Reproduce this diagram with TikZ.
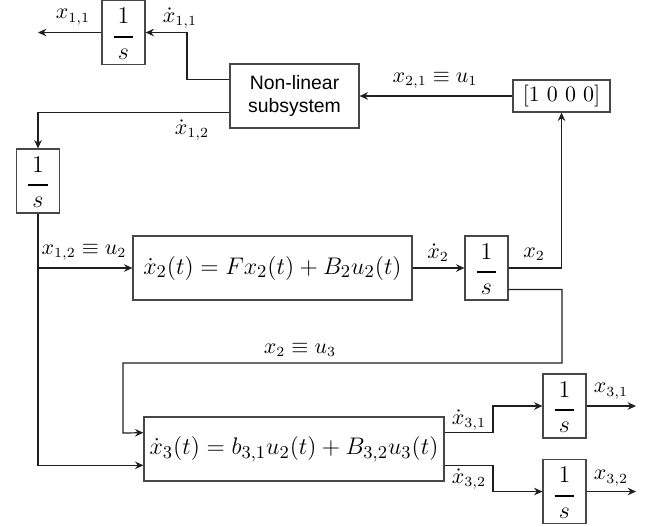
\documentclass[tikz,border=0pt]{standalone}
\usepackage{amsmath}
\usepackage{fontspec}
\newfontfamily\nlfont{Liberation Sans}
\usetikzlibrary{arrows.meta,calc}
\newcommand{\intfrac}{$\genfrac{}{}{0.95pt}{0}{\vphantom{(}1}{\,s\,}$}
\tikzset{
  blk/.style={draw=black!72, line width=0.6pt, inner sep=0pt, fill=white},
  intg/.style={blk, minimum width=21.5pt, minimum height=32pt, font=\fontsize{13}{15}\selectfont},
  eqbox/.style={blk, minimum height=32pt, font=\fontsize{12.4}{15}\selectfont},
  conn/.style={draw=black!88, line width=0.6pt},
  arr/.style={conn, -{Stealth[length=4.2pt, width=3.8pt, inset=1.4pt]}},
  lbl/.style={inner sep=0pt, font=\fontsize{10.5}{12}\selectfont}
}
\begin{document}
\begin{tikzpicture}[x=0.5pt, y=-0.5pt]
\useasboundingbox (0,0) rectangle (656,526);
% blocks
\node[intg] (int11) at (123.5,32.5) {\intfrac};
\node[blk, minimum width=64.5pt, minimum height=32pt, align=center, font=\nlfont\fontsize{9.7}{11.5}\selectfont] (nl) at (294.5,96) {Non-linear\\subsystem};
\node[blk, minimum width=48.5pt, minimum height=16pt, font=\fontsize{11}{13}\selectfont] (sel) at (561.5,96) {$[1\ 0\ 0\ 0]$};
\node[intg] (int12) at (38,181) {\intfrac};
\node[eqbox, minimum width=139.5pt] (eq1) at (272.5,268) {$\dot{x}_2(t) = Fx_2(t) + B_2u_2(t)$};
\node[intg] (int2) at (486.5,268) {\intfrac};
\node[eqbox, minimum width=150pt] (eq2) at (294,449) {$\dot{x}_3(t) = b_{3,1}u_2(t) + B_{3,2}u_3(t)$};
\node[intg] (int31) at (564.5,406) {\intfrac};
\node[intg] (int32) at (564.5,491.5) {\intfrac};
% free ends
\coordinate (o11) at (38,32.5);
\coordinate (o31) at (636,406);
\coordinate (o32) at (636,491.5);
% connectors
\draw[arr] ($(nl.north west)!.25!(nl.south west)$) -| (187,32.5) -- (int11.east);
\draw[arr] (int11.west) -- (o11);
\draw[arr] ($(nl.north west)!.75!(nl.south west)$) -| (int12.north);
\draw[arr] (sel.west) -- (nl.east);
\draw[arr] (int12.south) |- ($(eq2.north west)!.75!(eq2.south west)$);
\draw[arr] (int12.south |- eq1.west) -- (eq1.west);
\draw[arr] (eq1.east) -- (int2.west);
\draw[arr] (int2.east) -| (sel.south);
\draw[arr] ($(int2.north east)!.83!(int2.south east)$) -| (562,363) -| (123,433) -- ($(eq2.north west)!.25!(eq2.south west)$);
\draw[arr] ($(eq2.north east)!.25!(eq2.south east)$) -| (493,406) -- (int31.west);
\draw[arr] ($(eq2.north east)!.75!(eq2.south east)$) -| (493,491.5) -- (int32.west);
\draw[arr] (int31.east) -- (o31);
\draw[arr] (int32.east) -- (o32);
% labels
\node[lbl] (l1) at (73,17) {$x_{1,1}$};
\node[lbl] (l2) at (180,18) {$\dot{x}_{1,1}$};
\node[lbl] (l3) at (192,130) {$\dot{x}_{1,2}$};
\node[lbl] (l4) at (435,80) {$x_{2,1} \equiv u_1$};
\node[lbl] (l5) at (84,252) {$x_{1,2} \equiv u_2$};
\node[lbl] (l6) at (438,253) {$\dot{x}_2$};
\node[lbl] (l7) at (534,254) {$x_2$};
\node[lbl] (l8) at (300,350) {$x_2 \equiv u_3$};
\node[lbl] (l9) at (469,420) {$\dot{x}_{3,1}$};
\node[lbl] (l10) at (469,479) {$\dot{x}_{3,2}$};
\node[lbl] (l11) at (611,391) {$x_{3,1}$};
\node[lbl] (l12) at (611,478) {$x_{3,2}$};
\end{tikzpicture}
\end{document}
